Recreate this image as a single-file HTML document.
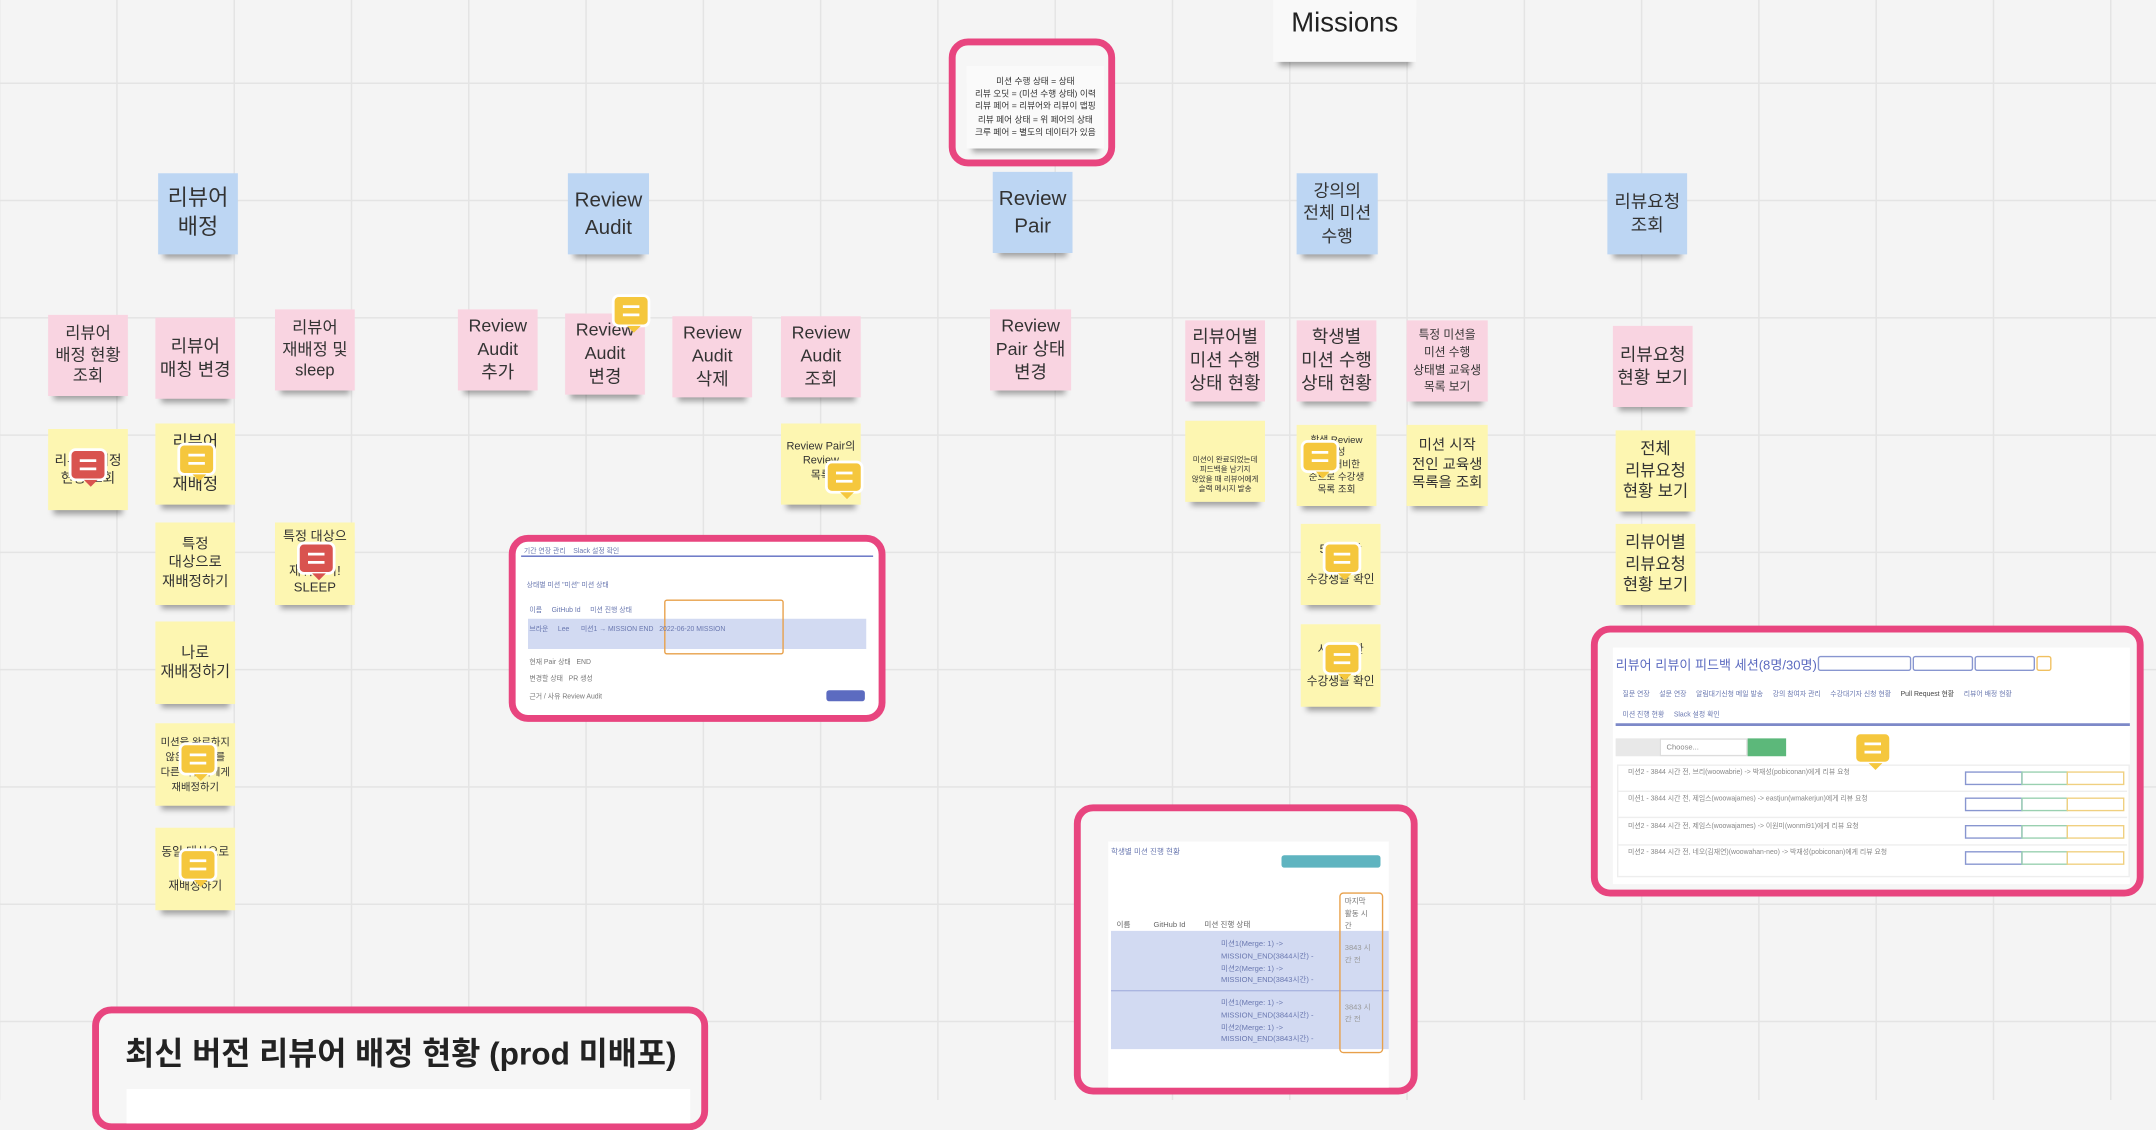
<!DOCTYPE html>
<html><head><meta charset="utf-8"><style>
html,body{margin:0;padding:0;width:2156px;height:1100px;overflow:hidden;background:#f4f4f4}
#c{position:absolute;left:0;top:0;width:1568px;height:800px;transform:scale(1.375);transform-origin:0 0;
font-family:"Liberation Sans","Noto Sans CJK KR",sans-serif;
background-color:#f4f4f4;
background-image:linear-gradient(to right,#e4e4e4 1px,transparent 1px),linear-gradient(to bottom,#e4e4e4 1px,transparent 1px);
background-size:85.3px 85.3px;background-position:84.5px 60px}
.s{position:absolute;display:flex;align-items:center;justify-content:center;text-align:center;color:#333;line-height:1.3;box-shadow:0 7px 4px -4px rgba(0,0,0,.35);box-sizing:border-box;padding:2px}
.b{background:#bdd6f3;font-size:16px}
.p{background:#f9d4e1;font-size:13px}
.y{background:#fdf6b1;font-size:12px}
.ic{position:absolute;width:28px;height:24px;border-radius:5px;border:2px solid #fff;box-sizing:border-box}
.ic::before{content:"";position:absolute;left:6px;right:6px;top:6px;height:2px;background:#fff;box-shadow:0 6px 0 #fff}
.ic::after{content:"";position:absolute;left:9px;bottom:-6px;border:5px solid transparent;border-bottom:0}
.iy{background:#f5c73d}
.iy::after{border-top-color:#f5c73d}
.ir{background:#d9534f}
.ir::after{border-top-color:#d9534f}
.fr{position:absolute;border:5px solid #e8457f;border-radius:14px;background:#fff;box-sizing:border-box;overflow:hidden}
.t{font-size:5px;color:#6a78b0;position:absolute;white-space:nowrap}
</style></head><body><div id="c">

<div class="s" style="left:926px;top:0;width:104px;height:45px;background:#f9f9f9;font-size:20px;color:#222;align-items:flex-start;padding-top:4px">Missions</div>

<div class="fr" style="left:690px;top:28px;width:121px;height:93px;background:#f6f6f6">
 <div class="s" style="left:8px;top:15px;width:100px;height:60px;background:#fafafa;font-size:6.3px;line-height:1.45;color:#333">미션 수행 상태 = 상태<br>리뷰 오딧 = (미션 수행 상태) 이력<br>리뷰 페어 = 리뷰어와 리뷰이 맵핑<br>리뷰 페어 상태 = 위 페어의 상태<br>크루 페어 = 별도의 데이터가 있음</div>
</div>

<div class="s b" style="left:115px;top:126px;width:58px;height:59px">리뷰어<br>배정</div>
<div class="s b" style="left:413px;top:126px;width:59px;height:59px;font-size:15px">Review<br>Audit</div>
<div class="s b" style="left:722px;top:125px;width:58px;height:59px;font-size:15px">Review<br>Pair</div>
<div class="s b" style="left:943px;top:126px;width:59px;height:59px;font-size:12.5px">강의의<br>전체 미션<br>수행</div>
<div class="s b" style="left:1169px;top:126px;width:58px;height:59px;font-size:13px">리뷰요청<br>조회</div>

<div class="s p" style="left:35px;top:229px;width:58px;height:59px;font-size:12px">리뷰어<br>배정 현황<br>조회</div>
<div class="s p" style="left:113px;top:231px;width:58px;height:59px">리뷰어<br>매칭 변경</div>
<div class="s p" style="left:200px;top:225px;width:58px;height:59px;font-size:12px">리뷰어<br>재배정 및<br>sleep</div>
<div class="s p" style="left:333px;top:225px;width:58px;height:59px">Review<br>Audit<br>추가</div>
<div class="s p" style="left:411px;top:228px;width:58px;height:59px">Review<br>Audit<br>변경</div>
<div class="s p" style="left:489px;top:230px;width:58px;height:59px">Review<br>Audit<br>삭제</div>
<div class="s p" style="left:568px;top:230px;width:58px;height:59px">Review<br>Audit<br>조회</div>
<div class="s p" style="left:720px;top:225px;width:59px;height:59px">Review<br>Pair 상태<br>변경</div>
<div class="s p" style="left:862px;top:233px;width:58px;height:59px">리뷰어별<br>미션 수행<br>상태 현황</div>
<div class="s p" style="left:943px;top:233px;width:58px;height:59px">학생별<br>미션 수행<br>상태 현황</div>
<div class="s p" style="left:1023px;top:233px;width:59px;height:59px;font-size:8.5px;line-height:1.5">특정 미션을<br>미션 수행<br>상태별 교육생<br>목록 보기</div>
<div class="s p" style="left:1173px;top:237px;width:58px;height:59px">리뷰요청<br>현황 보기</div>

<div class="s y" style="left:35px;top:312px;width:58px;height:59px;font-size:10px">리뷰어 배정<br>현황 조회</div>
<div class="s y" style="left:113px;top:308px;width:58px;height:59px">리뷰어<br><br>재배정</div>
<div class="s y" style="left:113px;top:380px;width:58px;height:60px;font-size:10.5px">특정<br>대상으로<br>재배정하기</div>
<div class="s y" style="left:200px;top:380px;width:58px;height:60px;font-size:9.5px">특정 대상으로<br>재워두기!<br>SLEEP</div>
<div class="s y" style="left:113px;top:452px;width:58px;height:60px;font-size:11px">나로<br>재배정하기</div>
<div class="s y" style="left:113px;top:526px;width:58px;height:60px;font-size:7.5px;line-height:1.5">미션을 완료하지<br>않은 리뷰이를<br>다른 리뷰어에게<br>재배정하기</div>
<div class="s y" style="left:113px;top:602px;width:58px;height:60px;font-size:8.5px;line-height:1.5">동일 대상으로<br>인원을<br>재배정하기</div>
<div class="s y" style="left:568px;top:308px;width:58px;height:59px;font-size:8px;align-items:flex-start;padding-top:12px">Review Pair의<br>Review<br>목록</div>
<div class="s y" style="left:862px;top:306px;width:58px;height:59px;font-size:5.5px;align-items:flex-start;padding-top:26px">미션이 완료되었는데<br>피드백을 남기지<br>않았을 때 리뷰어에게<br>슬랙 메시지 발송</div>
<div class="s y" style="left:943px;top:309px;width:58px;height:59px;font-size:7px">학생 Review<br>생성<br>시간 대비한<br>순으로 수강생<br>목록 조회</div>
<div class="s y" style="left:1023px;top:309px;width:59px;height:59px;font-size:10.5px">미션 시작<br>전인 교육생<br>목록을 조회</div>
<div class="s y" style="left:946px;top:381px;width:58px;height:59px;font-size:8.5px">5일 이상<br><br>수강생을 확인</div>
<div class="s y" style="left:946px;top:454px;width:58px;height:60px;font-size:8.5px">시작 안한<br><br>수강생을 확인</div>
<div class="s y" style="left:1175px;top:313px;width:58px;height:59px;font-size:12px">전체<br>리뷰요청<br>현황 보기</div>
<div class="s y" style="left:1175px;top:381px;width:58px;height:59px;font-size:12px">리뷰어별<br>리뷰요청<br>현황 보기</div>

<div class="ic iy" style="left:445px;top:214px"></div>
<div class="ic ir" style="left:50px;top:326px"></div>
<div class="ic iy" style="left:129px;top:322px"></div>
<div class="ic ir" style="left:216px;top:394px"></div>
<div class="ic iy" style="left:130px;top:540px"></div>
<div class="ic iy" style="left:130px;top:617px"></div>
<div class="ic iy" style="left:600px;top:335px"></div>
<div class="ic iy" style="left:946px;top:320px"></div>
<div class="ic iy" style="left:962px;top:394px"></div>
<div class="ic iy" style="left:962px;top:467px"></div>

<!-- screenshot 1 -->
<div class="fr" style="left:370px;top:389px;width:274px;height:136px">
 <div style="position:absolute;left:4px;top:10px;right:4px;height:1px;background:#5c6bc0"></div>
 <div class="t" style="left:6px;top:3px">기간 연장 관리 &nbsp;&nbsp; Slack 설정 확인</div>
 <div class="t" style="left:8px;top:28px">상태별 미션 "미션" 미션 상태</div>
 <div style="position:absolute;left:9px;top:56px;right:9px;height:22px;background:#d2daf2"></div>
 <div style="position:absolute;left:108px;top:42px;width:85px;height:38px;border:1.5px solid #e8a04a;border-radius:2px"></div>
 <div class="t" style="left:10px;top:46px">이름 &nbsp;&nbsp;&nbsp; GitHub Id &nbsp;&nbsp;&nbsp; 미션 진행 상태</div>
 <div class="t" style="left:10px;top:60px">브라운 &nbsp;&nbsp;&nbsp; Lee &nbsp;&nbsp;&nbsp;&nbsp; 미션1 → MISSION END &nbsp; 2022-06-20 MISSION</div>
 <div class="t" style="left:10px;top:84px;color:#777">현재 Pair 상태 &nbsp; END</div>
 <div class="t" style="left:10px;top:96px;color:#777">변경할 상태 &nbsp; PR 생성</div>
 <div class="t" style="left:10px;top:109px;color:#777">근거 / 사유 Review Audit</div>
 <div style="position:absolute;right:10px;top:108px;width:28px;height:8px;background:#5c6bc0;border-radius:2px"></div>
</div>

<!-- screenshot 2 -->
<div class="fr" style="left:781px;top:585px;width:250px;height:211px;background:#f6f6f6">
 <div style="position:absolute;left:20px;top:22px;width:204px;height:190px;background:#fff"></div>
 <div class="t" style="left:22px;top:25px;font-size:5.5px">학생별 미션 진행 현황</div>
 <div style="position:absolute;left:146px;top:32px;width:72px;height:9px;background:#5fb4c0;border-radius:2px"></div>
 <div style="position:absolute;left:22px;top:87px;width:202px;height:86px;background:#d2daf2"></div>
 <div style="position:absolute;left:22px;top:130px;width:202px;height:1px;background:#aab5e0"></div>
 <div class="t" style="left:26px;top:78px;color:#666;font-size:5.5px">이름 &nbsp;&nbsp;&nbsp;&nbsp;&nbsp;&nbsp;&nbsp;&nbsp;&nbsp; GitHub Id &nbsp;&nbsp;&nbsp;&nbsp;&nbsp;&nbsp;&nbsp; 미션 진행 상태</div>
 <div class="t" style="left:102px;top:93px;line-height:1.6;font-size:5.5px">미션1(Merge: 1) -&gt;<br>MISSION_END(3844시간) -<br>미션2(Merge: 1) -&gt;<br>MISSION_END(3843시간) -</div>
 <div class="t" style="left:102px;top:136px;line-height:1.6;font-size:5.5px">미션1(Merge: 1) -&gt;<br>MISSION_END(3844시간) -<br>미션2(Merge: 1) -&gt;<br>MISSION_END(3843시간) -</div>
 <div style="position:absolute;left:188px;top:59px;width:30px;height:115px;border:1.5px solid #e8a04a;border-radius:3px"></div>
 <div class="t" style="left:192px;top:62px;color:#777;line-height:1.6;font-size:5.5px">마지막<br>활동 시<br>간</div>
 <div class="t" style="left:192px;top:96px;color:#999;font-size:5.5px;line-height:1.6">3843 시<br>간 전</div>
 <div class="t" style="left:192px;top:139px;color:#999;font-size:5.5px;line-height:1.6">3843 시<br>간 전</div>
</div>

<!-- screenshot 3 -->
<div class="fr" style="left:1157px;top:455px;width:402px;height:197px;background:#f6f6f6">
 <div style="position:absolute;left:11px;top:11px;width:376px;height:172px;background:#fff"></div>
 <div style="position:absolute;left:13px;top:16px;font-size:9.5px;color:#5c6bc0;white-space:nowrap">리뷰어 리뷰이 피드백 세션(8명/30명)</div>
 <div style="position:absolute;left:160px;top:17px;width:66px;height:9px;border:1px solid #8896d0;border-radius:2px"></div>
 <div style="position:absolute;left:229px;top:17px;width:42px;height:9px;border:1px solid #8896d0;border-radius:2px"></div>
 <div style="position:absolute;left:274px;top:17px;width:42px;height:9px;border:1px solid #8896d0;border-radius:2px"></div>
 <div style="position:absolute;left:319px;top:17px;width:9px;height:9px;border:1px solid #f0c060;border-radius:2px"></div>
 <div class="t" style="left:18px;top:41px">질문 연장 &nbsp;&nbsp;&nbsp; 설문 연장 &nbsp;&nbsp;&nbsp; 알림대기신청 메일 발송 &nbsp;&nbsp;&nbsp; 강의 참여자 관리 &nbsp;&nbsp;&nbsp; 수강대기자 신청 현황 &nbsp;&nbsp;&nbsp; <span style="color:#444">Pull Request 현황</span> &nbsp;&nbsp;&nbsp; 리뷰어 배정 현황</div>
 <div class="t" style="left:18px;top:56px">미션 진행 현황 &nbsp;&nbsp;&nbsp; Slack 설정 확인</div>
 <div style="position:absolute;left:13px;top:66px;width:374px;height:1.5px;background:#7d89c8"></div>
 <div style="position:absolute;left:13px;top:77px;width:32px;height:13px;background:#e8e8e8"></div>
 <div style="position:absolute;left:45px;top:77px;width:64px;height:13px;background:#fff;border:1px solid #ddd;box-sizing:border-box;font-size:5.5px;color:#888;padding:3px 4px">Choose...</div>
 <div style="position:absolute;left:109px;top:77px;width:28px;height:13px;background:#5cb87a"></div>
 <div style="position:absolute;left:14px;top:96px;width:371px;height:80px;border:1px solid #eee"></div>
 <div class="t" style="left:22px;top:98px;color:#888">미션2 - 3844 시간 전, 브리(woowabrie) -&gt; 박재성(pobiconan)에게 리뷰 요청</div>
 <div class="t" style="left:22px;top:117px;color:#888">미션1 - 3844 시간 전, 제임스(woowajames) -&gt; eastjun(wmakerjun)에게 리뷰 요청</div>
 <div class="t" style="left:22px;top:137px;color:#888">미션2 - 3844 시간 전, 제임스(woowajames) -&gt; 이원미(wonmi91)에게 리뷰 요청</div>
 <div class="t" style="left:22px;top:156px;color:#888">미션2 - 3844 시간 전, 네오(김재연)(woowahan-neo) -&gt; 박재성(pobiconan)에게 리뷰 요청</div>
 <div style="position:absolute;left:14px;top:115px;width:371px;height:1px;background:#eee"></div>
 <div style="position:absolute;left:14px;top:134px;width:371px;height:1px;background:#eee"></div>
 <div style="position:absolute;left:14px;top:154px;width:371px;height:1px;background:#eee"></div>
 <div style="position:absolute;left:267px;top:101px;width:40px;height:8px;border:1px solid #8896d0"></div>
 <div style="position:absolute;left:308px;top:101px;width:32px;height:8px;border:1px solid #9ad0b0"></div>
 <div style="position:absolute;left:341px;top:101px;width:40px;height:8px;border:1px solid #f0d080"></div>
 <div style="position:absolute;left:267px;top:120px;width:40px;height:8px;border:1px solid #8896d0"></div>
 <div style="position:absolute;left:308px;top:120px;width:32px;height:8px;border:1px solid #9ad0b0"></div>
 <div style="position:absolute;left:341px;top:120px;width:40px;height:8px;border:1px solid #f0d080"></div>
 <div style="position:absolute;left:267px;top:140px;width:40px;height:8px;border:1px solid #8896d0"></div>
 <div style="position:absolute;left:308px;top:140px;width:32px;height:8px;border:1px solid #9ad0b0"></div>
 <div style="position:absolute;left:341px;top:140px;width:40px;height:8px;border:1px solid #f0d080"></div>
 <div style="position:absolute;left:267px;top:159px;width:40px;height:8px;border:1px solid #8896d0"></div>
 <div style="position:absolute;left:308px;top:159px;width:32px;height:8px;border:1px solid #9ad0b0"></div>
 <div style="position:absolute;left:341px;top:159px;width:40px;height:8px;border:1px solid #f0d080"></div>
</div>
<div class="ic iy" style="left:1348px;top:532px"></div>

<!-- bottom frame -->
<div class="fr" style="left:67px;top:732px;width:448px;height:90px;background:#f6f6f6">
 <div style="position:absolute;left:19px;top:10px;font-size:23px;font-weight:bold;color:#222;white-space:nowrap">최신 버전 리뷰어 배정 현황 (prod 미배포)</div>
 <div style="position:absolute;left:20px;top:55px;width:410px;height:30px;background:#fff"></div>
</div>

</div></body></html>
